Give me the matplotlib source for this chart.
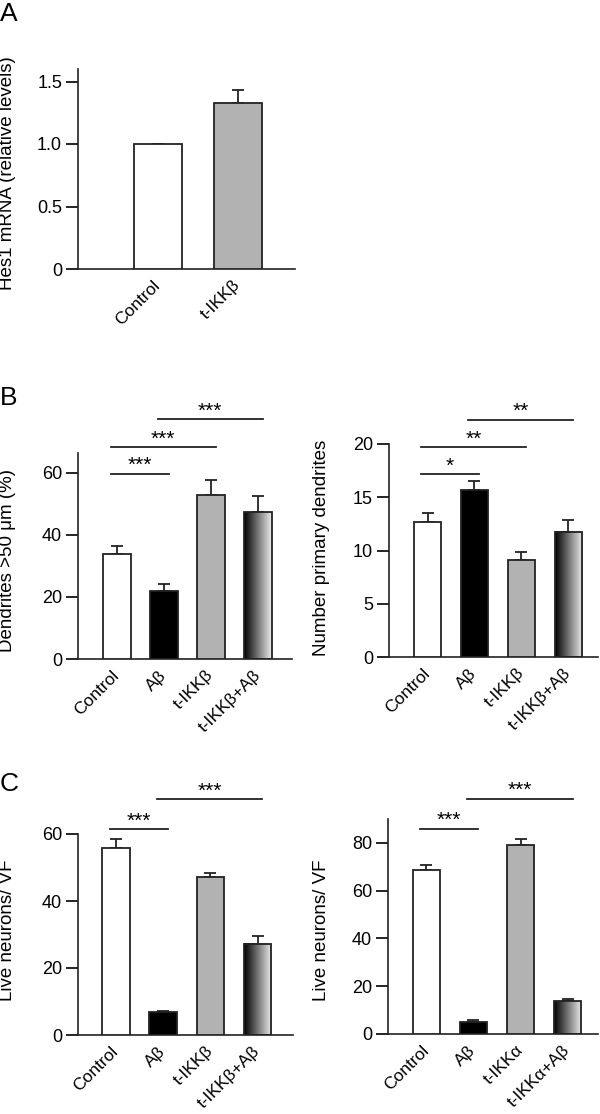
import numpy as np
import matplotlib
matplotlib.use('Agg')
import matplotlib.pyplot as plt

plt.rcParams['font.family'] = ['Liberation Sans', 'DejaVu Sans']

# Panel A - Hes1 mRNA
a_labels = ['Control', 't-IKKβ']
a_values = [1.0, 1.33]
a_errors = [0.0, 0.10]

# Panel B - dendrites
b_labels = ['Control', 'Aβ', 't-IKKβ', 't-IKKβ+Aβ']
b1_values = [33.7, 22.0, 52.9, 47.2]
b1_errors = [2.7, 2.1, 4.6, 5.4]
b2_values = [12.65, 15.65, 9.15, 11.77]
b2_errors = [0.85, 0.85, 0.75, 1.1]

# Panel C - live neurons
c1_labels = ['Control', 'Aβ', 't-IKKβ', 't-IKKβ+Aβ']
c1_values = [55.7, 6.8, 47.2, 27.2]
c1_errors = [2.9, 0.4, 1.3, 2.3]
c2_labels = ['Control', 'Aβ', 't-IKKα', 't-IKKα+Aβ']
c2_values = [68.6, 5.0, 79.1, 13.7]
c2_errors = [2.1, 0.9, 2.5, 0.9]

# significance brackets: (from, to, height, stars)
b1_sig = [(0, 1, 59.6, '***'), (0, 2, 68.1, '***'), (1, 3, 77.2, '***')]
b2_sig = [(0, 1, 17.15, '*'), (0, 2, 19.7, '**'), (1, 3, 22.3, '**')]
c1_sig = [(0, 1, 61.5, '***'), (1, 3, 70.4, '***')]
c2_sig = [(0, 1, 85.9, '***'), (1, 3, 98.5, '***')]

colors4 = ['white', 'black', '#b2b2b2', 'gradient']

W, H = 600, 1114
fig = plt.figure(figsize=(W / 100, H / 100), dpi=100)


def px_axes(l, t, r, b):
    return fig.add_axes([l / W, 1 - b / H, (r - l) / W, (b - t) / H])


def bar_panel(ax, labels, values, errors, colors, xlim, ylim, yticks,
              yticklabels, width=0.58, sigs=()):
    x = np.arange(len(values))
    face = ['none' if c == 'gradient' else c for c in colors]
    bars = ax.bar(x, values, width=width, color=face, edgecolor='#222222',
                  linewidth=1.3, zorder=3)
    for bar, c in zip(bars, colors):
        if c == 'gradient':
            x0, w, h = bar.get_x(), bar.get_width(), bar.get_height()
            grad = np.linspace(0, 0.93, 200).reshape(1, -1)
            ax.imshow(grad, cmap='gray', vmin=0, vmax=1, aspect='auto',
                      extent=(x0, x0 + w, 0, h), zorder=2)
    low = np.zeros(len(values))
    ax.errorbar(x, values, yerr=[low, errors], fmt='none', ecolor='#222222',
                elinewidth=1.3, capsize=4.3, capthick=1.3, zorder=1)
    for i, j, y, txt in sigs:
        ax.plot([x[i] - 0.13, x[j] + 0.1], [y, y], color='#222222', lw=1.3,
                clip_on=False)
        ax.annotate(txt, ((x[i] + x[j]) / 2 - 0.02, y), xytext=(0, -1),
                    textcoords='offset points', ha='center', va='bottom',
                    fontsize=15, annotation_clip=False)
    ax.set_xlim(*xlim)
    ax.set_ylim(*ylim)
    ax.set_yticks(yticks)
    ax.set_yticklabels(yticklabels, fontsize=13)
    ax.set_xticks(x)
    ax.set_xticklabels(labels, fontsize=12.5, rotation=45, ha='right',
                       va='center', rotation_mode='anchor')
    ax.tick_params(axis='x', length=0, pad=10)
    ax.tick_params(axis='y', direction='out', length=8.5, width=1.2, pad=3)
    for s in ['top', 'right']:
        ax.spines[s].set_visible(False)
    for s in ['left', 'bottom']:
        ax.spines[s].set_linewidth(1.2)
        ax.spines[s].set_color('#222222')


# Panel A
axA = px_axes(78, 69, 295, 269)
bar_panel(axA, a_labels, a_values, a_errors, ['white', '#b2b2b2'],
          (-1.0, 1.71), (0, 1.6), [0, 0.5, 1.0, 1.5],
          ['0', '0.5', '1.0', '1.5'], width=0.6)

# Panel B
axB1 = px_axes(78, 453, 292, 659)
bar_panel(axB1, b_labels, b1_values, b1_errors, colors4,
          (-0.83, 3.72), (0, 66.3), [0, 20, 40, 60], ['0', '20', '40', '60'],
          sigs=b1_sig)
axB2 = px_axes(389, 444, 598, 657)
bar_panel(axB2, b_labels, b2_values, b2_errors, colors4,
          (-0.82, 3.63), (0, 20), [0, 5, 10, 15, 20],
          ['0', '5', '10', '15', '20'], sigs=b2_sig)

# Panel C
axC1 = px_axes(78, 834, 293, 1035)
bar_panel(axC1, c1_labels, c1_values, c1_errors, colors4,
          (-0.80, 3.75), (0, 60), [0, 20, 40, 60], ['0', '20', '40', '60'],
          sigs=c1_sig)
axC2 = px_axes(388, 819, 598, 1034)
bar_panel(axC2, c2_labels, c2_values, c2_errors, colors4,
          (-0.81, 3.64), (0, 90), [0, 20, 40, 60, 80],
          ['0', '20', '40', '60', '80'], sigs=c2_sig)

# y labels
ylabels = [
    ('Hes1 mRNA (relative levels)', 8, 173),
    ('Dendrites >50 μm (%)', 8, 561),
    ('Number primary dendrites', 322, 548),
    ('Live neurons/ VF', 8, 930),
    ('Live neurons/ VF', 322, 930),
]
for txt, px, py in ylabels:
    fig.text(px / W, 1 - py / H, txt, rotation=90, ha='center', va='center',
             fontsize=13.5)

# panel letters
for letter, py in [('A', 2), ('B', 386), ('C', 772)]:
    fig.text(0 / W, 1 - py / H, letter, ha='left', va='top', fontsize=19)

fig.savefig('out.png', dpi=100)
